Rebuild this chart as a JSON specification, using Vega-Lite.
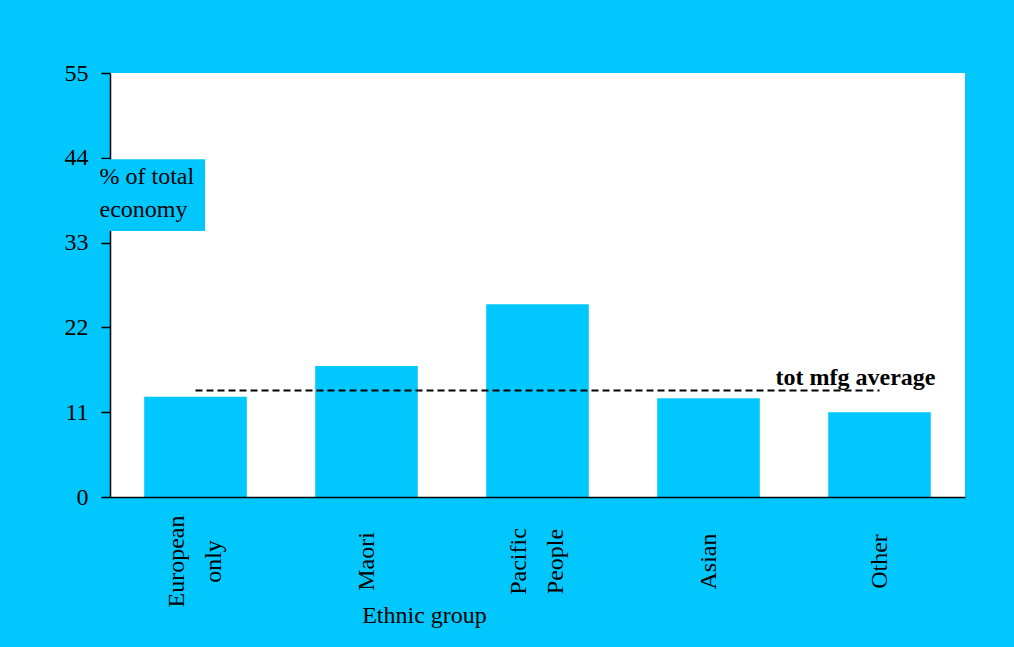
{
  "$schema": "https://vega.github.io/schema/vega-lite/v6.json",
  "width": 855,
  "height": 424,
  "autosize": {"type": "none"},
  "padding": {"left": 110, "top": 73, "right": 49, "bottom": 150},
  "background": "#00C8FF",
  "config": {
    "font": "Liberation Serif",
    "view": {"fill": "#ffffff", "stroke": null}
  },
  "datasets": {
    "bars": [
      {"group": "European only", "pct": 13.0},
      {"group": "Maori", "pct": 17.0},
      {"group": "Pacific People", "pct": 25.0},
      {"group": "Asian", "pct": 12.8},
      {"group": "Other", "pct": 11.0}
    ],
    "avg": [
      {"label": "tot mfg average", "value": 13.8, "from": "European only", "to": "Other"}
    ]
  },
  "layer": [
    {
      "data": {"name": "bars"},
      "mark": {"type": "bar", "color": "#00C8FF"},
      "encoding": {
        "x": {
          "field": "group", "type": "nominal",
          "scale": {"domain": ["European only", "Maori", "Pacific People", "Asian", "Other"], "paddingInner": 0.4, "paddingOuter": 0.2},
          "axis": {
            "title": "Ethnic group", "titleFontSize": 24, "titleFontWeight": "normal", "titleColor": "#000000",
            "titleX": 314, "titleY": 118, "titleAlign": "center", "titleBaseline": "middle", "titleAnchor": null,
            "labelExpr": "split(datum.label, ' ')",
            "labelAngle": -90, "labelAlign": "center", "labelBaseline": "middle",
            "labelOffset": {"condition": {"test": "indexof(datum.value, ' ') >= 0", "value": -18.5}, "value": 0},
            "labelPadding": 64, "labelLineHeight": 37, "labelFontSize": 24, "labelColor": "#000000",
            "ticks": false, "domainColor": "#000000", "domainWidth": 1.5, "zindex": 1
          }
        },
        "y": {
          "field": "pct", "type": "quantitative",
          "scale": {"domain": [0, 55], "nice": false},
          "axis": {
            "title": null, "values": [0, 11, 22, 33, 44, 55], "grid": false,
            "labelFontSize": 24, "labelColor": "#000000", "labelPadding": 13,
            "tickSize": 9, "tickColor": "#000000", "tickWidth": 1.5,
            "domainColor": "#000000", "domainWidth": 1.5, "zindex": 0
          }
        }
      }
    },
    {
      "data": {"name": "avg"},
      "mark": {"type": "rule", "color": "#000000", "strokeWidth": 2, "strokeDash": [7, 4]},
      "encoding": {
        "x": {"field": "from", "type": "nominal"},
        "x2": {"field": "to"},
        "y": {"field": "value", "type": "quantitative"}
      }
    },
    {
      "data": {"name": "avg"},
      "mark": {"type": "text", "align": "right", "baseline": "alphabetic", "dx": 56, "dy": -6, "fontSize": 24, "fontWeight": "bold", "color": "#000000"},
      "encoding": {
        "x": {"field": "to", "type": "nominal"},
        "y": {"field": "value", "type": "quantitative"},
        "text": {"field": "label"}
      }
    },
    {
      "data": {"values": [{}]},
      "mark": {"type": "bar", "color": "#00C8FF", "width": 105, "xOffset": -43},
      "encoding": {
        "x": {"datum": "European only", "type": "nominal"},
        "y": {"datum": 43.8, "type": "quantitative"},
        "y2": {"datum": 34.5}
      }
    },
    {
      "data": {"values": [{}]},
      "mark": {"type": "text", "align": "left", "baseline": "top", "dx": -96, "fontSize": 24, "lineHeight": 33, "color": "#000000"},
      "encoding": {
        "x": {"datum": "European only", "type": "nominal"},
        "y": {"datum": 43.1, "type": "quantitative"},
        "text": {"value": ["% of total", "economy"]}
      }
    }
  ]
}
